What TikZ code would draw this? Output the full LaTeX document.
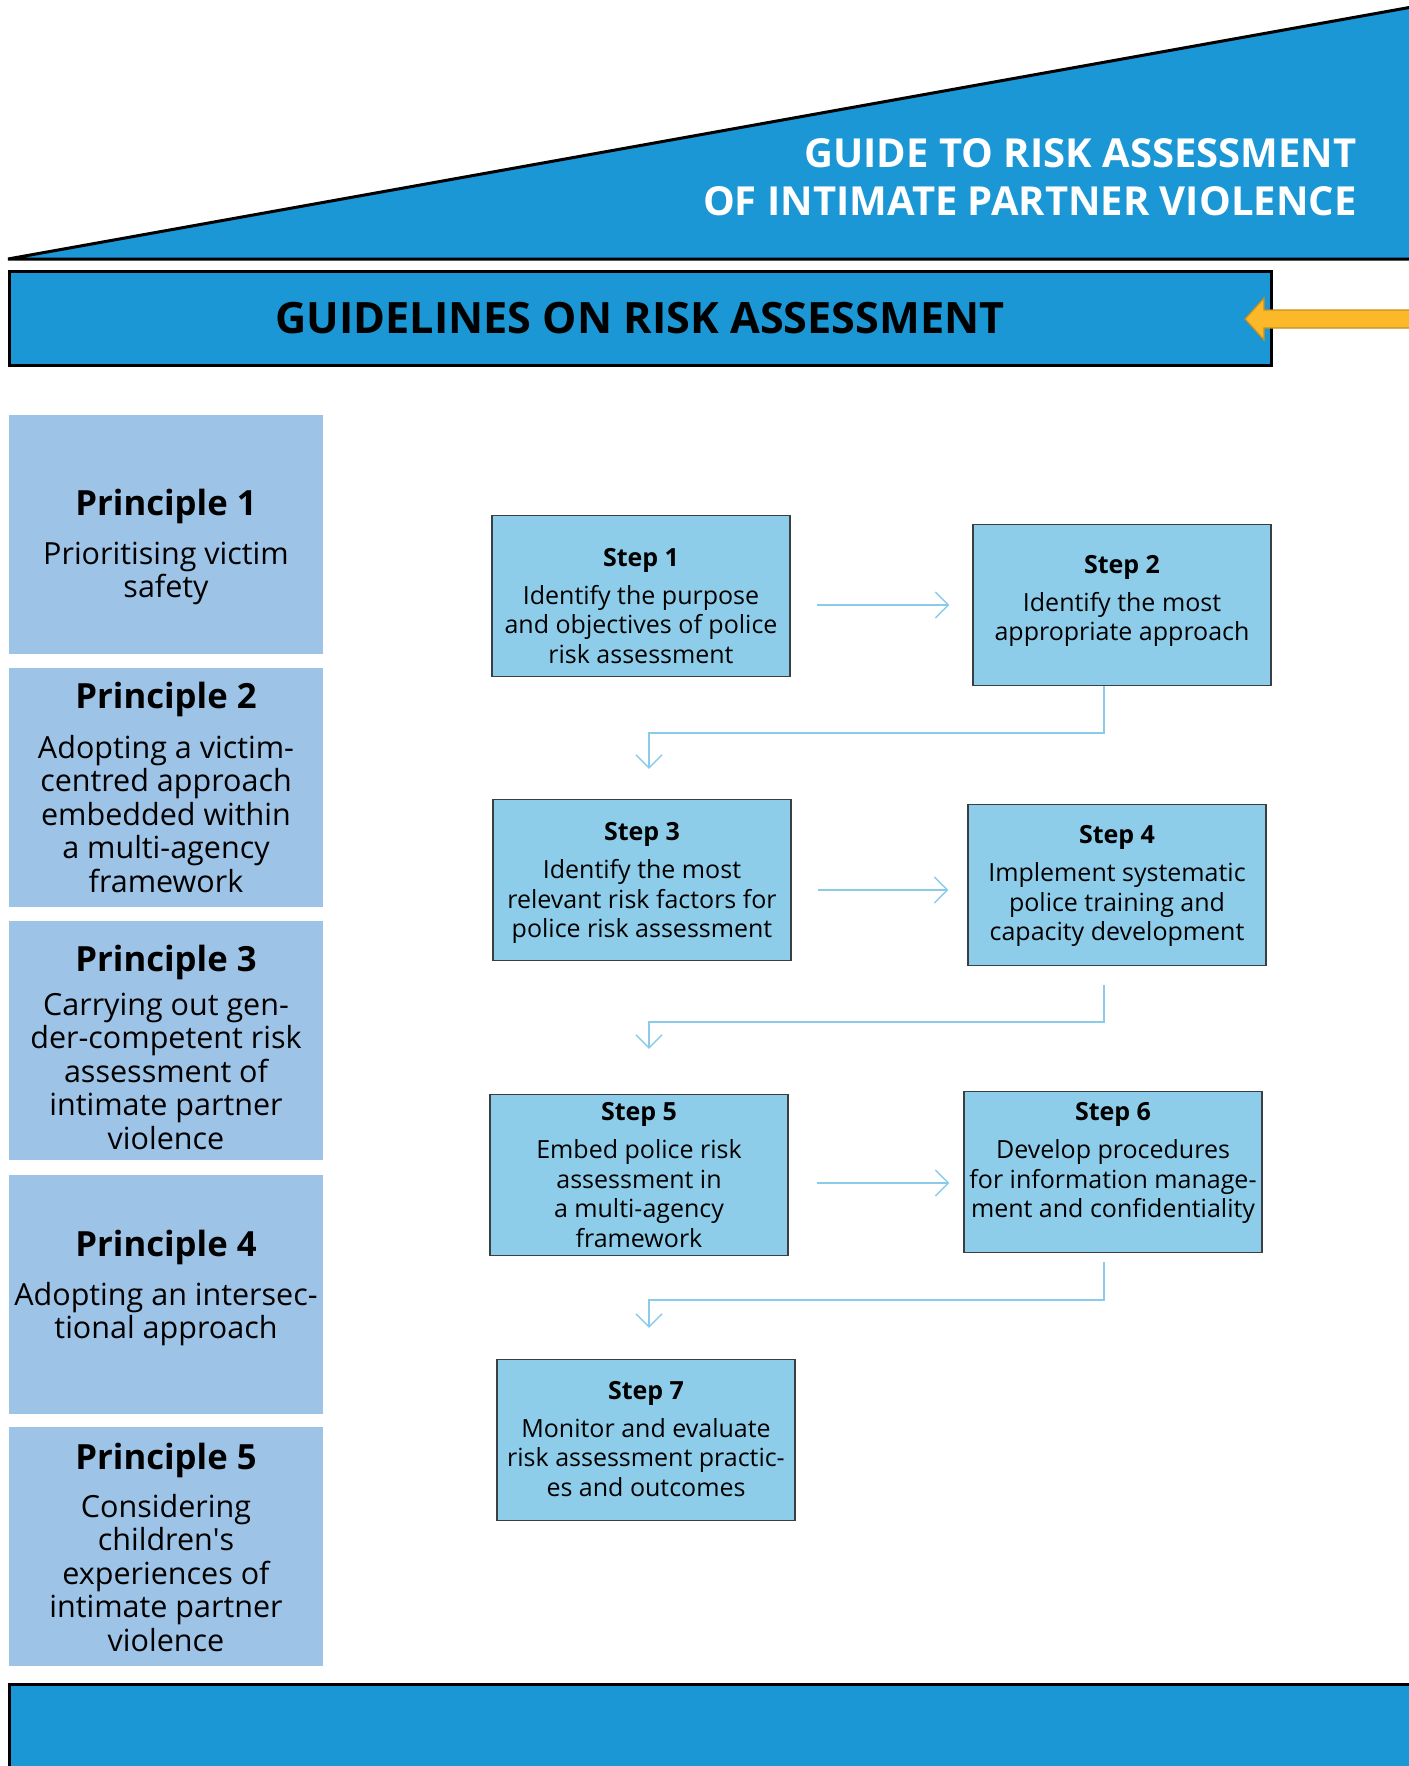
\documentclass[tikz,border=0pt]{standalone}
\usepackage{fontspec}
\setmainfont{Open Sans}
\usetikzlibrary{arrows.meta}
\definecolor{guideblue}{HTML}{1A97D4}
\definecolor{principleblue}{HTML}{9DC3E6}
\definecolor{stepblue}{HTML}{8ECDEA}
\definecolor{stepborder}{HTML}{3A3F44}
\definecolor{arrowblue}{HTML}{8ACBEA}
\definecolor{arrowyellow}{HTML}{FBB829}
\definecolor{arrowedge}{HTML}{C8901A}
\begin{document}
\begin{tikzpicture}[x=1pt,y=-1pt,
	principle/.style={fill=principleblue, minimum width=314pt, minimum height=239pt, inner sep=0pt},
	principletext/.style={align=center, font=\fontsize{30.5}{33.4}\selectfont},
	stepbox/.style={draw=stepborder, line width=1.2pt, fill=stepblue, minimum width=298pt,
		minimum height=161pt, inner sep=0pt},
	steptext/.style={align=center, font=\fontsize{25}{29.5}\selectfont},
	flow/.style={draw=arrowblue, line width=1.5pt, -{Straight Barb[length=13pt,width=26pt]}}]
	
	\useasboundingbox (0,0) rectangle (1408,1766);
	
	%Title triangle
	\draw[fill=guideblue, line width=3pt] (8,259) -- (1412,7) -- (1412,259) -- cycle;
	\node (Guide Title) at (1360,177) [anchor=east, align=right, text=white,
	font=\bfseries\fontsize{40}{48}\selectfont]{GUIDE TO RISK ASSESSMENT\\OF INTIMATE PARTNER VIOLENCE};
	
	%Guidelines bar
	\node (Guidelines) at (640,318) [draw, line width=3pt, fill=guideblue, minimum width=1262pt,
	minimum height=94pt, inner sep=0pt, font=\bfseries\fontsize{43.2}{50}\selectfont]{GUIDELINES ON RISK ASSESSMENT};
	
	%Yellow arrow
	\draw[fill=arrowyellow, draw=arrowedge, line width=1.2pt] (1245,319) -- (1264,298) -- (1264,310)
	-- (1412,310) -- (1412,328) -- (1264,328) -- (1264,340) -- cycle;
	
	%Principles
	\node (Principle 1) at (166,534) [principle]{};
	\node (Principle 2) at (166,787) [principle]{};
	\node (Principle 3) at (166,1040) [principle]{};
	\node (Principle 4) at (166,1294) [principle]{};
	\node (Principle 5) at (166,1546) [principle]{};
	
	%Writing in the principle boxes
	\node (Principle 1 text) at (166,547) [principletext]{{\bfseries\fontsize{34.7}{33}\selectfont Principle 1}\\[16pt]
		Prioritising victim\\safety};
	\node (Principle 2 text) at (166,787) [principletext]{{\bfseries\fontsize{34.7}{33}\selectfont Principle 2}\\[17pt]
		Adopting a victim-\\centred approach\\embedded within\\a multi-agency\\framework};
	\node (Principle 3 text) at (166,1047) [principletext]{{\bfseries\fontsize{34.7}{33}\selectfont Principle 3}\\[11pt]
		Carrying out gen-\\der-competent risk\\assessment of\\intimate partner\\violence};
	\node (Principle 4 text) at (166,1288) [principletext]{{\bfseries\fontsize{34.7}{33}\selectfont Principle 4}\\[15pt]
		Adopting an intersec-\\tional approach};
	\node (Principle 5 text) at (166,1547) [principletext]{{\bfseries\fontsize{34.7}{33}\selectfont Principle 5}\\[15pt]
		Considering\\children\textquotesingle s\\experiences of\\intimate partner\\violence};
	
	%Steps
	\node (Step 1) at (641,596) [stepbox]{};
	\node (Step 2) at (1122,605) [stepbox]{};
	\node (Step 3) at (642,880) [stepbox]{};
	\node (Step 4) at (1117,885) [stepbox]{};
	\node (Step 5) at (639,1175) [stepbox]{};
	\node (Step 6) at (1113,1172) [stepbox]{};
	\node (Step 7) at (646,1440) [stepbox]{};
	
	%Writing in the step boxes
	\node (Step 1 text) at (641,606) [steptext]{\textbf{Step 1}\\[8.5pt]Identify the purpose\\and objectives of police\\risk assessment};
	\node (Step 2 text) at (1122,601) [steptext]{\textbf{Step 2}\\[8.5pt]Identify the most\\appropriate approach};
	\node (Step 3 text) at (642,883) [steptext]{\textbf{Step 3}\\[8.5pt]Identify the most\\relevant risk factors for\\police risk assessment};
	\node (Step 4 text) at (1117,886) [steptext]{\textbf{Step 4}\\[8.5pt]Implement systematic\\police training and\\capacity development};
	\node (Step 5 text) at (639,1175) [steptext]{\textbf{Step 5}\\[8.5pt]Embed police risk\\assessment in\\a multi-agency\\framework};
	\node (Step 6 text) at (1113,1163) [steptext]{\textbf{Step 6}\\[8.5pt]Develop procedures\\for information manage-\\ment and confidentiality};
	\node (Step 7 text) at (646,1439) [steptext]{\textbf{Step 7}\\[8.5pt]Monitor and evaluate\\risk assessment practic-\\es and outcomes};
	
	%Arrows
	\draw[flow] ([xshift=26pt]Step 1.east |- Step 2.west) -- ([xshift=-23pt]Step 2.west);
	\draw[flow] ([xshift=26pt,yshift=-5pt]Step 3.east |- Step 4.west) -- ([xshift=-19pt,yshift=-5pt]Step 4.west);
	\draw[flow] ([xshift=28pt,yshift=-11pt]Step 5.east |- Step 6.west) -- ([xshift=-14pt,yshift=-11pt]Step 6.west);
	\draw[flow] ([xshift=-18pt]Step 2.south) |- ([xshift=7pt,yshift=66pt]Step 3.north) -- ([xshift=7pt,yshift=30pt]Step 3.north);
	\draw[flow] ([xshift=-13pt,yshift=-19pt]Step 4.south) |- ([xshift=10pt,yshift=72pt]Step 5.north) -- ([xshift=10pt,yshift=45pt]Step 5.north);
	\draw[flow] ([xshift=-9pt,yshift=-9pt]Step 6.south) |- ([xshift=3pt,yshift=59pt]Step 7.north) -- ([xshift=3pt,yshift=31pt]Step 7.north);
	
	%Bottom bar
	\draw[fill=guideblue, line width=3pt] (9,1770) -- (9,1684) -- (1412,1684) -- (1412,1770);
	
\end{tikzpicture}
\end{document}
